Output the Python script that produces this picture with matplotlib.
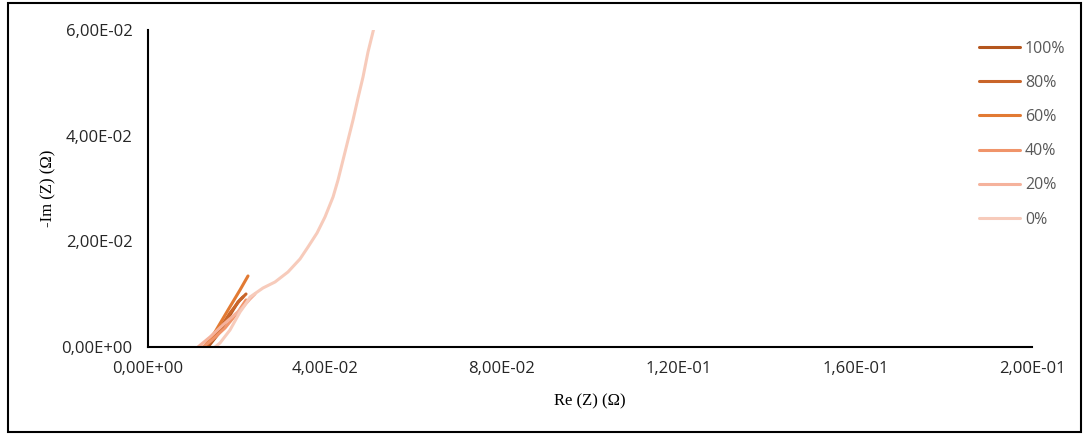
import matplotlib
matplotlib.use("Agg")
from matplotlib import pyplot as plt
from matplotlib.ticker import FuncFormatter
from matplotlib.patches import Rectangle

# Nyquist data (Re, -Im in ohm)
re_100 = [0.01357, 0.01606, 0.01855, 0.02036, 0.02149]
im_100 = [0.0, 0.00265, 0.00606, 0.00852, 0.00946]

re_80 = [0.01312, 0.01561, 0.01855, 0.02081, 0.02217]
im_80 = [0.0, 0.00265, 0.00644, 0.0089, 0.01003]

re_60 = [0.01267, 0.01516, 0.0181, 0.02081, 0.02262]
im_60 = [0.0, 0.00284, 0.0070, 0.01079, 0.01344]

re_40 = [0.01244, 0.01448, 0.01742, 0.02036, 0.02217]
im_40 = [0.0, 0.00132, 0.0036, 0.00662, 0.0089]

re_20 = [0.01131, 0.01403, 0.01742, 0.02081, 0.02308, 0.02421]
im_20 = [0.0, 0.00189, 0.00454, 0.0070, 0.00908, 0.01003]

re_0 = [0.01516, 0.01629, 0.01855, 0.02081, 0.02195, 0.02308, 0.02602, 0.02873,
        0.03167, 0.03439, 0.0362, 0.03824, 0.04004, 0.04186, 0.04299, 0.04412,
        0.04525, 0.04638, 0.04751, 0.04864, 0.04977, 0.0510]
im_0 = [0.0, 0.00076, 0.00322, 0.00662, 0.00795, 0.00946, 0.01117, 0.0123,
        0.0142, 0.01666, 0.01893, 0.02158, 0.02461, 0.02839, 0.03161, 0.03539,
        0.03918, 0.04296, 0.04713, 0.0511, 0.05583, 0.0600]

labels = ['100%', '80%', '60%', '40%', '20%', '0%']
colors = ['#B4561E', '#C9652A', '#E27A33', '#F0946A', '#F5B29C', '#F7CBBB']
series = [(re_100, im_100), (re_80, im_80), (re_60, im_60),
          (re_40, im_40), (re_20, im_20), (re_0, im_0)]

fig = plt.figure(figsize=(10.86, 4.34), dpi=100)
ax = fig.add_axes([0.1363, 0.2005, 0.814, 0.7304])

for (x, y), lab, c in zip(series, labels, colors):
    ax.plot(x, y, color=c, lw=2.2, label=lab, solid_capstyle='round',
            solid_joinstyle='round')

ax.set_xlim(0, 0.2)
ax.set_ylim(0, 0.06)
ax.set_xticks([0, 0.04, 0.08, 0.12, 0.16, 0.2])
ax.set_yticks([0, 0.02, 0.04, 0.06])
fmt = FuncFormatter(lambda v, p: f"{v:.2E}".replace('.', ','))
ax.xaxis.set_major_formatter(fmt)
ax.yaxis.set_major_formatter(fmt)
ax.tick_params(axis='both', length=0, labelsize=12, labelcolor='#262626')
ax.tick_params(axis='y', pad=11)
ax.tick_params(axis='x', pad=10)
for lab in ax.get_xticklabels() + ax.get_yticklabels():
    lab.set_fontfamily('Open Sans')

ax.spines['top'].set_visible(False)
ax.spines['right'].set_visible(False)
ax.spines['left'].set_linewidth(1.5)
ax.spines['bottom'].set_linewidth(1.5)

ax.set_xlabel('Re (Z) (Ω)', fontfamily='Liberation Serif', fontsize=12, labelpad=12)
ax.set_ylabel('-Im (Z) (Ω)', fontfamily='Liberation Serif', fontsize=12, labelpad=4)

leg = ax.legend(loc='upper right', bbox_to_anchor=(1.054, 1.012), frameon=False,
                handlelength=2.6, handletextpad=0.3, labelspacing=1.14,
                prop={'family': 'Open Sans', 'size': 11.5})
for t in leg.get_texts():
    t.set_color('#595959')

fig.patches.append(Rectangle((0.007, 0.004), 0.988, 0.988, transform=fig.transFigure,
                             fill=False, edgecolor='black', lw=1.5))

fig.savefig('out.png', dpi=100)
